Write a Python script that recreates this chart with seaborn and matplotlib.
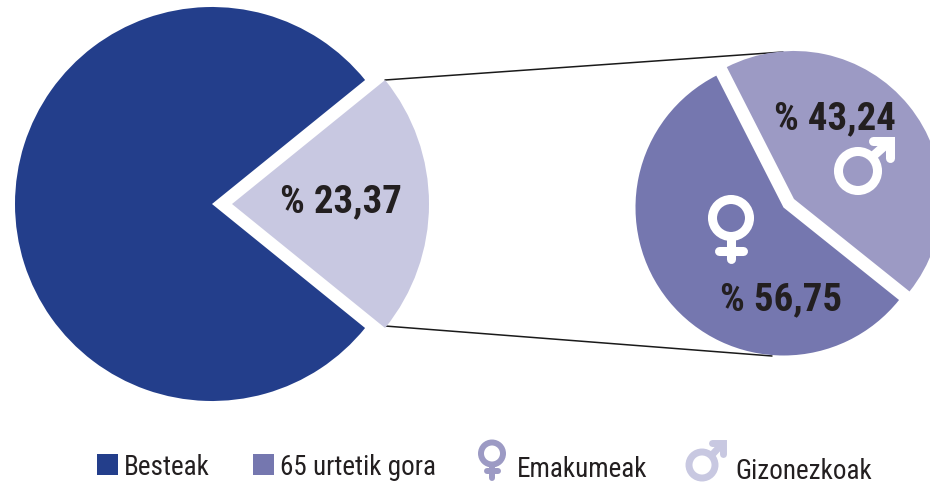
import matplotlib
matplotlib.use('Agg')
import matplotlib.pyplot as plt
from matplotlib.patches import Circle, Rectangle
import seaborn as sns

# big pie: the wedge is drawn narrower in the source than its 23,37 label says
big_names = ['Besteak', '65 urtetik gora']
big_sizes = [78.33, 21.67]
big_label = '% 23,37'

small_names = ['Emakumeak', 'Gizonezkoak']
small_values = [56.75, 43.24]
small_labels = ['% 56,75', '% 43,24']

sns.set_theme(style='white')
plt.rcParams['font.family'] = ['Roboto Condensed', 'Asap Condensed', 'Liberation Sans', 'DejaVu Sans']

big_colors = sns.color_palette(['#233e8b', '#c8c8e1'])
small_colors = sns.color_palette(['#7577af', '#9c9ac4'])
text_color = '#231f20'
H = 485


def flip(y):
    # pixel rows from the top -> axis units
    return H - y


def venus(ax, x, y, r, lw, color, stem, bar_at, bar_w):
    ax.add_patch(Circle((x, flip(y)), r, fill=False, ec=color, lw=lw, zorder=5))
    ax.plot([x, x], [flip(y + r), flip(y + r + stem)], color=color, lw=lw,
            solid_capstyle='round', zorder=5)
    ax.plot([x - bar_w, x + bar_w], [flip(y + bar_at)] * 2, color=color, lw=lw,
            solid_capstyle='round', zorder=5)


def mars(ax, x, y, r, lw, color, tip_x, tip_y, head):
    ax.add_patch(Circle((x, flip(y)), r, fill=False, ec=color, lw=lw, zorder=5))
    ax.plot([x + r * 0.7, tip_x], [flip(y - r * 0.7), flip(tip_y)], color=color, lw=lw,
            solid_capstyle='butt', zorder=5)
    ax.plot([tip_x - head, tip_x, tip_x], [flip(tip_y), flip(tip_y), flip(tip_y + head)],
            color=color, lw=lw, solid_capstyle='round', solid_joinstyle='miter', zorder=5)


fig = plt.figure(figsize=(9.3, 4.85), dpi=100)
ax = fig.add_axes([0, 0, 1, 1])

# connector lines go under the small pie
ax.plot([385, 783], [flip(81), flip(53)], color='#1a1a1a', lw=1.1, zorder=1)
ax.plot([385, 772], [flip(327), flip(357)], color='#1a1a1a', lw=1.1, zorder=1)

# explode is in axis units here because the radius is too
ax.pie(big_sizes, colors=big_colors, center=(212, flip(205)), radius=197,
       startangle=39, explode=[0, 20], frame=True,
       wedgeprops={'linewidth': 0})
ax.pie(small_values, colors=small_colors, center=(783.5, flip(208.5)), radius=148,
       startangle=117, explode=[0, 13.5], frame=True,
       wedgeprops={'linewidth': 0, 'zorder': 2})

ax.set_xlim(0, 930)
ax.set_ylim(0, H)
ax.set_aspect('equal')
ax.axis('off')

label_kw = dict(ha='center', va='center', fontsize=28, fontweight='bold',
                color=text_color, zorder=6)
ax.text(341, flip(202), big_label, **label_kw)
ax.text(781, flip(300), small_labels[0], **label_kw)
ax.text(835, flip(119), small_labels[1], **label_kw)

venus(ax, 731, 219, 18.5, 6.5, 'white', 22, 33, 12)
mars(ax, 858, 172, 19.5, 6.5, 'white', 890, 142, 17)

# legend, placed by hand like the original
ax.add_patch(Rectangle((97, flip(476)), 21, 21, fc=big_colors[0], ec='none'))
ax.add_patch(Rectangle((253, flip(476)), 21, 21, fc=small_colors[0], ec='none'))
legend_kw = dict(ha='left', va='center', fontsize=19.5, color=text_color)
ax.text(124, flip(468), big_names[0], **legend_kw)
ax.text(280, flip(468), big_names[1], **legend_kw)
ax.text(517, flip(470), small_names[0], **legend_kw)
ax.text(735, flip(471.5), small_names[1], **legend_kw)
venus(ax, 492, 454.5, 11, 4.3, '#9c9ac4', 13, 17.5, 5.5)
mars(ax, 702, 466, 13, 5, '#c8c8e1', 723, 444, 11)

fig.savefig('out.png', dpi=100)
